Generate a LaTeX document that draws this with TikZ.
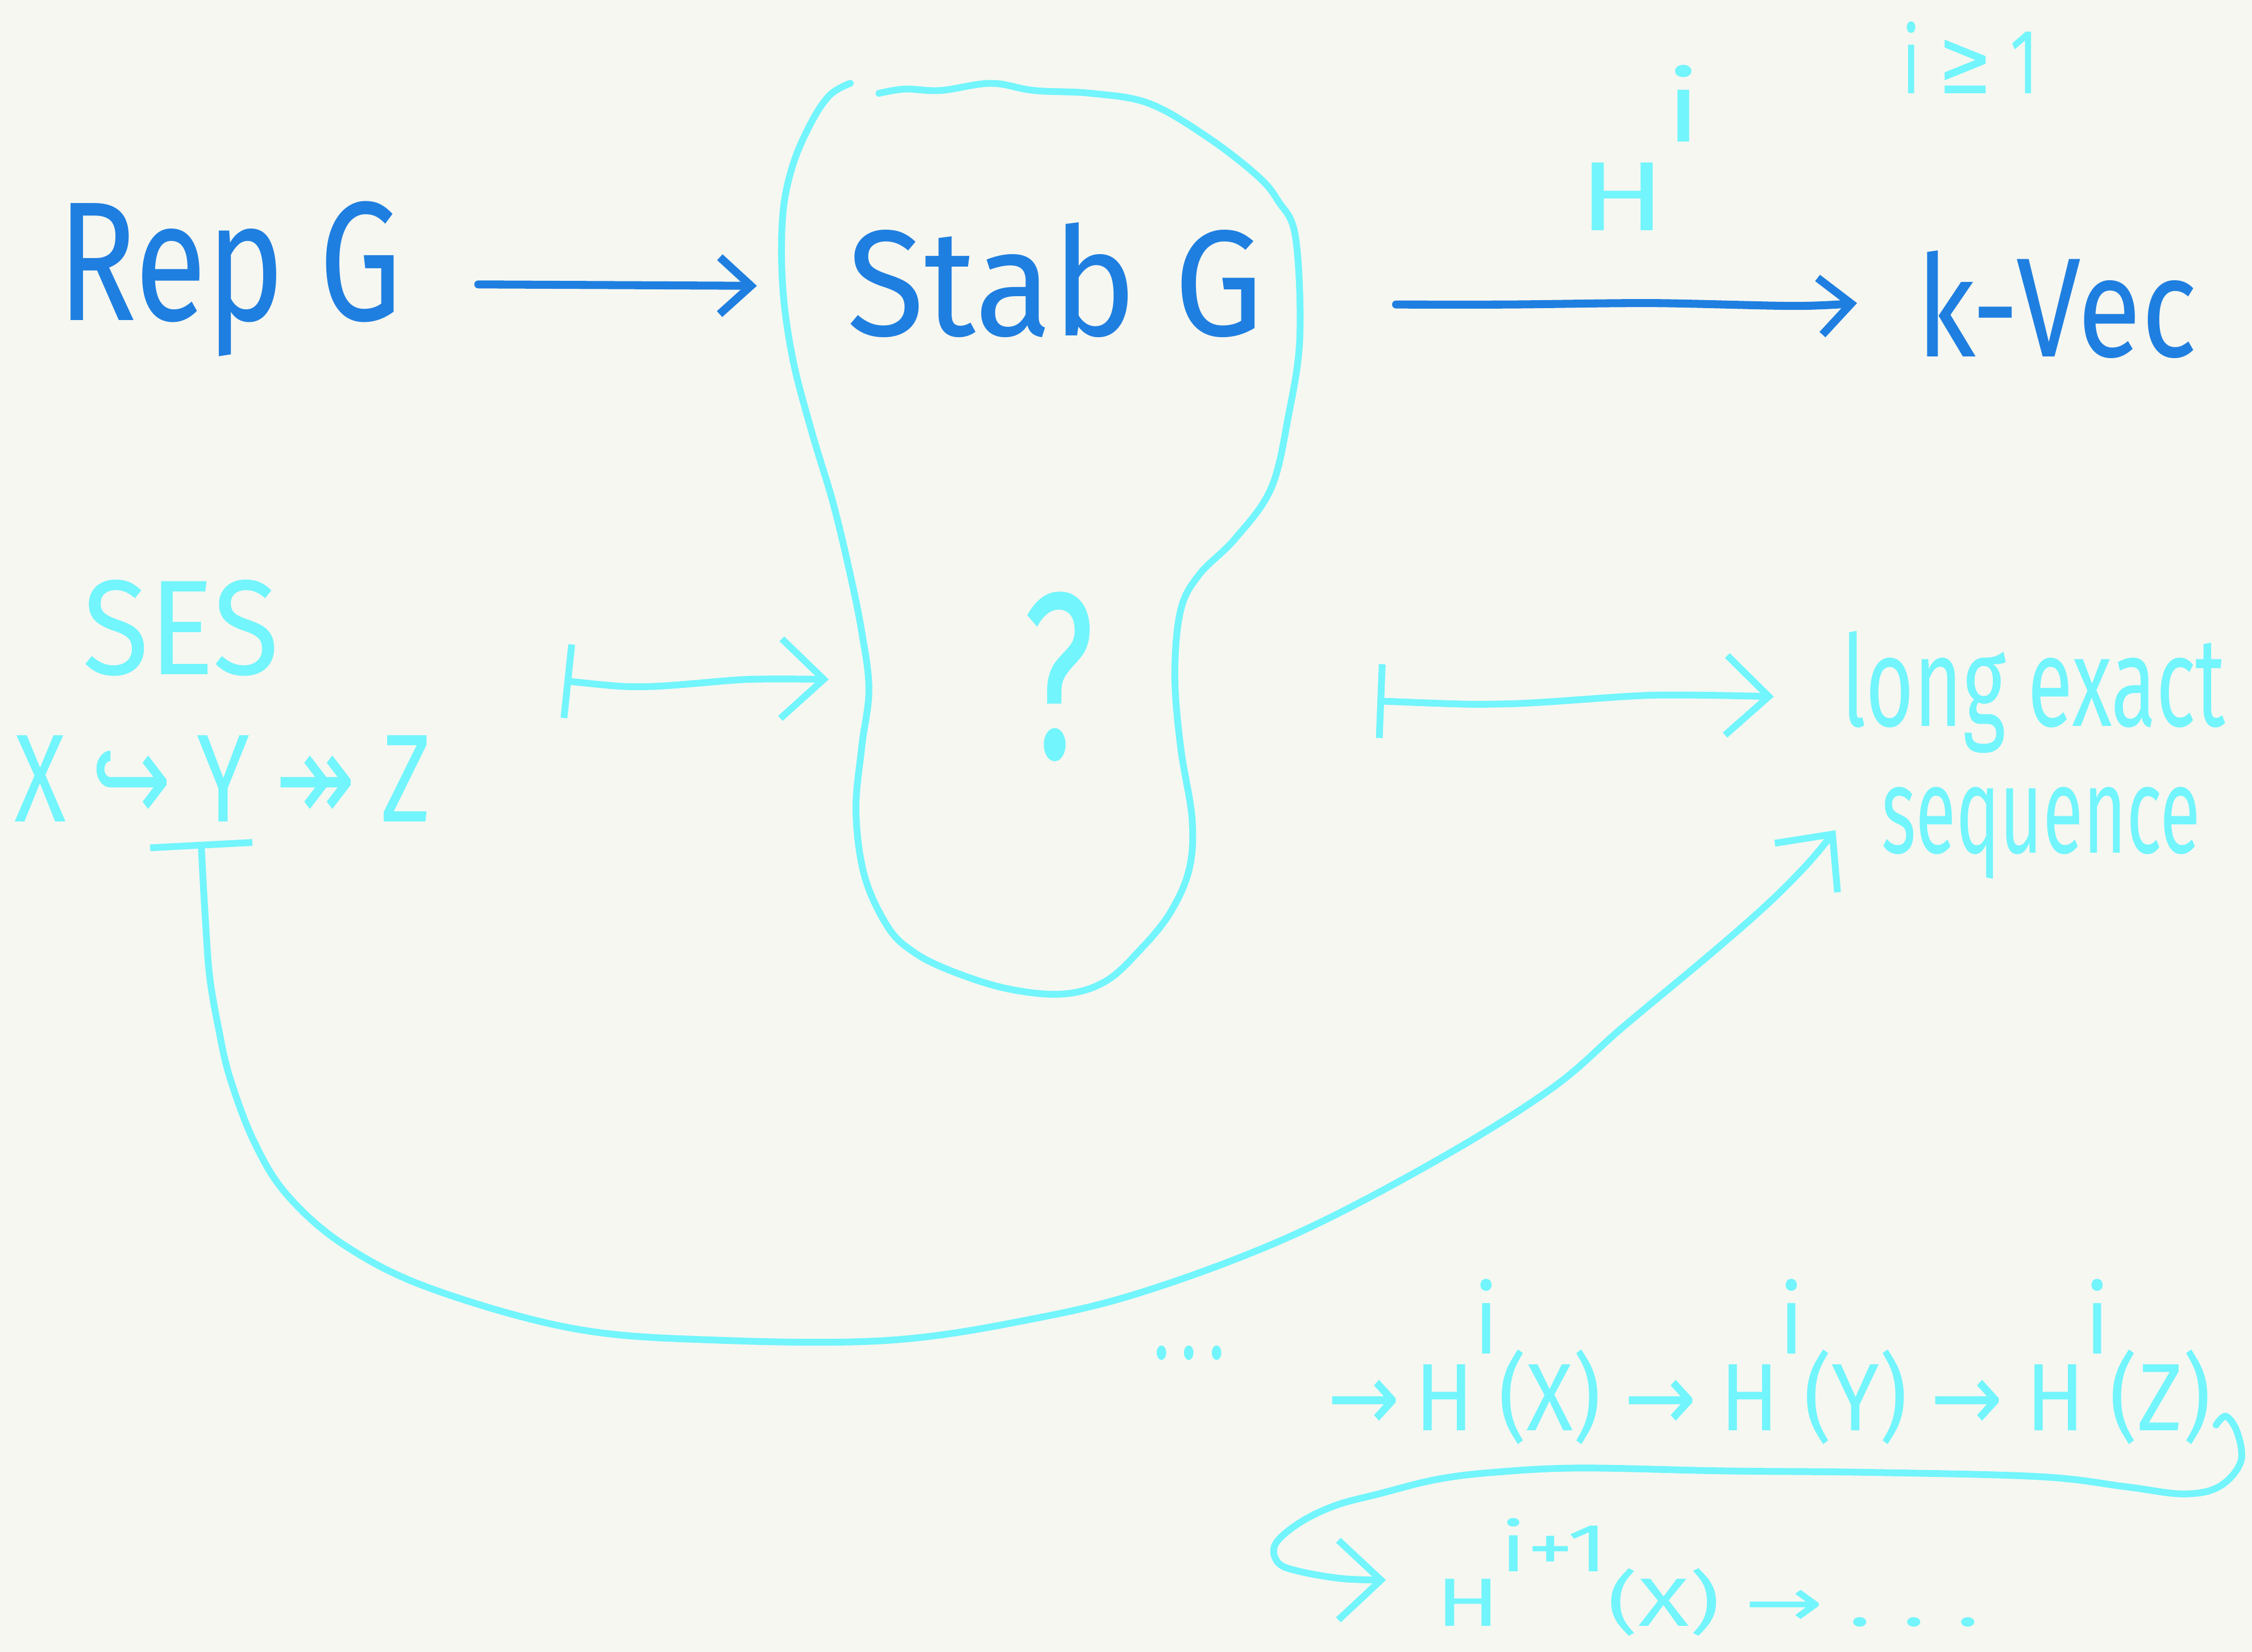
\documentclass[tikz,border=0pt]{standalone}
\usepackage{fontspec}
\setmainfont{Fira Sans}
\newfontfamily\symf{DejaVu Sans}
\usetikzlibrary{arrows.meta}
\definecolor{bg}{HTML}{F6F7F1}
\definecolor{dblue}{HTML}{1F7FE0}
\definecolor{cyanl}{HTML}{72F5FC}
\newcommand\fitto[3]{\resizebox*{\dimexpr0.2527mm*#1\relax}{\dimexpr0.2527mm*#2\relax}{#3}}
\tikzset{
  lbl/.style={inner sep=0pt, outer sep=0pt, anchor=center},
  dtext/.style={lbl, text=dblue},
  ctext/.style={lbl, text=cyanl},
  dline/.style={draw=dblue, line width=4pt, line cap=round, line join=round},
  cline/.style={draw=cyanl, line width=3.4pt, line cap=round, line join=round},
  dhead/.style={-{Straight Barb[length=0.55cm, width=1.0cm, line width=4pt]}},
  chead/.style={-{Straight Barb[length=0.75cm, width=1.4cm, line width=3.4pt]}},
  cmapsto/.style={{Bar[width=1.3cm, line width=3.4pt]}-{Straight Barb[length=0.75cm, width=1.4cm, line width=3.4pt]}},
}
\begin{document}
\begin{tikzpicture}[x=0.2527mm, y=-0.2527mm]
\fill[bg] (0,0) rectangle (1568,1150);
\useasboundingbox (0,0) rectangle (1568,1150);

% main labels
\node[dtext] (rep) at (160,194) {\fitto{240}{108}{Rep G}};
\node[dtext] (stab) at (735,195) {\fitto{290}{80}{Stab G}};
\node[dtext] (kvec) at (1432,212) {\fitto{195}{75}{k-Vec}};
\node[ctext] (hi) at (1142,103) {\fitto{85}{115}{H\raisebox{0.9em}{i}}};
\node[ctext] (ige) at (1372,40) {\fitto{95}{50}{i {\symf ≥} 1}};
\node[ctext] (ses) at (126,437) {\fitto{137}{67}{SES}};
\node[ctext] (xyz) at (155,542) {\fitto{290}{60}{X {\symf ↪} Y {\symf ↠} Z}};
\node[ctext] (q) at (737,471) {\fitto{50}{118}{?}};
\node[ctext] (les1) at (1416,482) {\fitto{267}{85}{long exact}};
\node[ctext] (les2) at (1421,580) {\fitto{222}{64}{sequence}};
\node[ctext] (dots) at (828,942) {\fitto{50}{10}{.\,.\,.}};
\node[ctext] (row1) at (1232,948) {\fitto{615}{115}{{\symf →}\,H\raisebox{0.8em}{i}(X) {\symf →} H\raisebox{0.8em}{i}(Y) {\symf →} H\raisebox{0.8em}{i}(Z)}};
\node[ctext] (row2) at (1189,1098) {\fitto{378}{82}{H\raisebox{0.8em}{i+1}(X) {\symf →} .\,\,.\,\,.}};

% blob (Stab G region)
\draw[cline, smooth, tension=0.6] plot coordinates {
(592,58) (578,66) (565,85) (552,115) (545,150) (545,200) (552,250) (565,300)
(580,350) (592,400) (600,440) (605,480) (600,520) (596,565) (602,610) (618,645)
(635,662) (660,675) (700,688) (740,692) (770,683) (795,660) (815,635) (828,605)
(830,570) (822,520) (818,470) (822,425) (835,400) (860,375) (885,340) (897,290)
(905,235) (902,165) (890,140) (875,122) (840,95) (800,72) (760,65) (720,63)
(690,58) (655,63) (630,62) (612,65)};

% arrows
\coordinate (repout) at (333,198);
\coordinate (stabin) at (527,199);
\draw[dline, dhead] (repout) -- (stabin);

\coordinate (stabout) at (972,212);
\coordinate (kvecin) at (1293,211);
\draw[dline, dhead, smooth] plot coordinates {(stabout) (1050,212) (1150,211) (1250,213) (kvecin)};

\coordinate (sesout) at (393,474);
\coordinate (blobin) at (577,473);
\draw[cline, cmapsto, smooth] plot coordinates {(sesout) (450,478) (520,473) (blobin)};

\coordinate (blobout) at (959,488);
\coordinate (lesin) at (1235,485);
\draw[cline, cmapsto, smooth] plot coordinates {(blobout) (1050,490) (1150,484) (lesin)};

\coordinate (xyzout) at (140,586);
\coordinate (seqin) at (1278,578);
\draw[cline, {Bar[width=1.8cm, line width=3.4pt]}-{Straight Barb[length=0.75cm, width=1.4cm, line width=3.4pt]}, smooth, tension=0.6] plot coordinates {
(xyzout) (143,640) (146,680) (152,715) (160,750) (177,795) (200,832) (240,867)
(300,897) (400,925) (500,933) (620,933) (720,918) (800,898) (900,860) (1000,808)
(1080,758) (1130,715) (1190,665) (1230,630) (1258,602) (seqin)};

% wrap-around to second row
\coordinate (wrapstart) at (1543,992);
\coordinate (wrapend) at (965,1100);
\draw[cline, chead, smooth, tension=0.6] plot coordinates {
(wrapstart) (1550,986) (1558,998) (1560,1018) (1545,1035) (1520,1040) (1480,1035)
(1420,1028) (1300,1025) (1200,1024) (1100,1022) (1040,1025) (1000,1030) (960,1040)
(930,1048) (905,1060) (888,1075) (890,1088) (905,1094) (935,1099) (wrapend)};
\end{tikzpicture}
\end{document}
